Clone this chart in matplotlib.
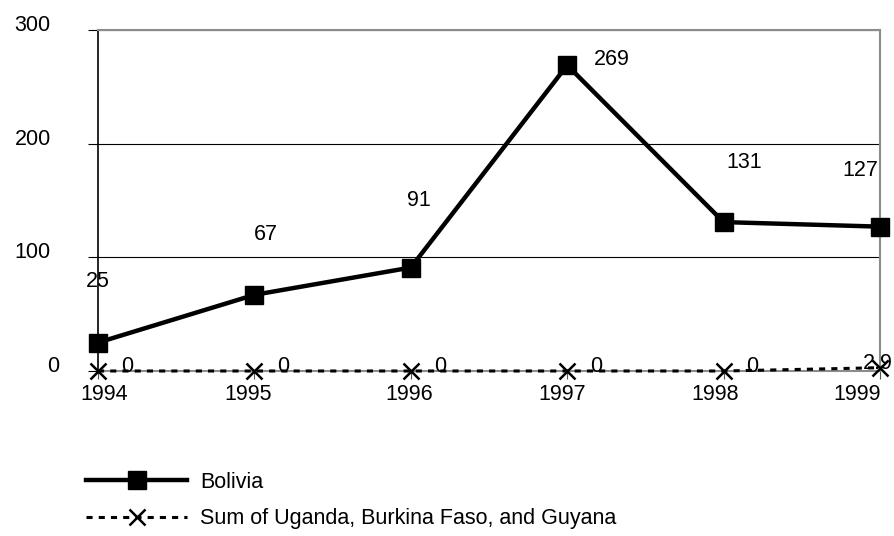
import matplotlib.pyplot as plt
import matplotlib.transforms as mtransforms

years = [1994, 1995, 1996, 1997, 1998, 1999]
bolivia = [25, 67, 91, 269, 131, 127]
others = [0, 0, 0, 0, 0, 2.9]
bolivia_labels = ["25", "67", "91", "269", "131", "127"]
others_labels = ["0", "0", "0", "0", "0", "2.9"]

# label offsets in pixels (dpi=100 -> convert to points)
bol_off = [(0, 61), (11, 60), (8, 67), (45, 6), (21, 60), (-20, 56)]
oth_off = [(29, 4), (29, 4), (29, 4), (29, 4), (29, 4), (-2, 4)]
xlab_shift = [6, -6, -2, -5, -8, -23]
ylab_shift = [8, 0, 0, 0]

plt.rcParams['font.family'] = ['Liberation Sans', 'DejaVu Sans']
FS = 15.5

fig = plt.figure(figsize=(8.94, 5.36), dpi=100)
ax = fig.add_axes([98 / 894, 1 - 371 / 536, (880 - 98) / 894, (371 - 30) / 536])

ax.plot(years, bolivia, color='black', lw=3.2, marker='s', ms=13,
        label='Bolivia', zorder=4, clip_on=False)
ax.plot(years, others, color='black', lw=2.2, ls=(0, (2.0, 2.0)), marker='x',
        ms=11, mew=1.8, label='Sum of Uganda, Burkina Faso, and Guyana',
        zorder=5, clip_on=False)

px = 72 / 100
for x, y, t, (dx, dy) in zip(years, bolivia, bolivia_labels, bol_off):
    ax.annotate(t, (x, y), xytext=(dx * px, dy * px), textcoords='offset points',
                ha='center', va='center', fontsize=FS)
for x, y, t, (dx, dy) in zip(years, others, others_labels, oth_off):
    ax.annotate(t, (x, y), xytext=(dx * px, dy * px), textcoords='offset points',
                ha='center', va='center', fontsize=FS, zorder=6)

ax.set_xlim(1994, 1999)
ax.set_ylim(0, 300)
ax.set_yticks([0, 100, 200, 300])
ax.set_xticks(years)
ax.yaxis.grid(True, color='black', lw=0.8)
ax.set_axisbelow(True)

ax.spines['left'].set_color('black')
for s in ['top', 'right', 'bottom']:
    ax.spines[s].set_color('#8c8c8c')
    ax.spines[s].set_linewidth(1.5)
ax.spines['left'].set_linewidth(1.2)

ax.tick_params(axis='y', length=7, width=0.8, pad=27, labelsize=FS)
ax.tick_params(axis='x', length=6, width=0.8, color='#555555', pad=3, labelsize=FS)

for lab, dx in zip(ax.get_yticklabels(), ylab_shift):
    lab.set_transform(lab.get_transform() +
                      mtransforms.ScaledTranslation(dx / 100, 7 / 100, fig.dpi_scale_trans))
for lab, dx in zip(ax.get_xticklabels(), xlab_shift):
    lab.set_transform(lab.get_transform() +
                      mtransforms.ScaledTranslation(dx / 100, 0, fig.dpi_scale_trans))

fig.legend(loc='upper left', bbox_to_anchor=(86 / 894, 1 - 472 / 536),
           frameon=False, fontsize=FS, handlelength=4.7, handletextpad=0.6,
           labelspacing=0.7, borderaxespad=0, borderpad=0)

fig.savefig('out.png', dpi=100)
